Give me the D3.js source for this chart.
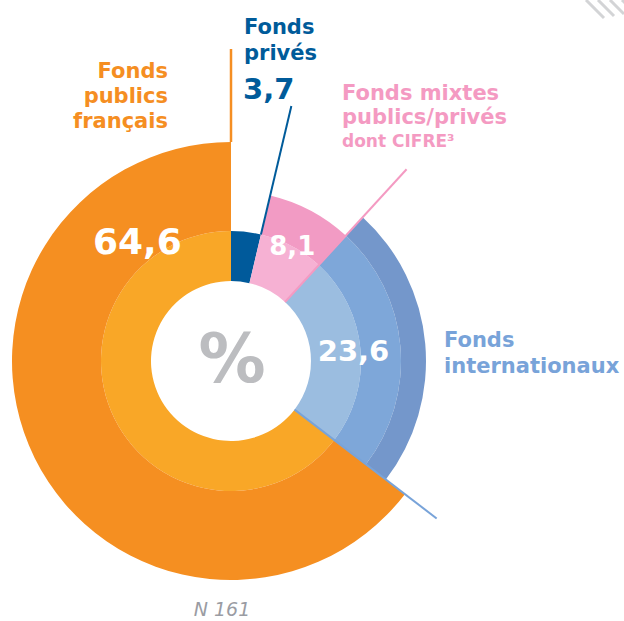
<!DOCTYPE html>
<html>
<head>
<meta charset="utf-8">
<script src="https://cdn.jsdelivr.net/npm/d3@7"></script>
<style>
  body { margin: 0; background: #fff; }
  svg { display: block; font-family: "DejaVu Sans", Verdana, sans-serif; }
</style>
</head>
<body>
<div id="chart"></div>
<script>
// parts of funding, % (clockwise from top)
const categories = ["Fonds privés", "Fonds mixtes publics/privés dont CIFRE³", "Fonds internationaux", "Fonds publics français"];
const shares = [3.7, 8.1, 23.6, 64.6];
const valueLabels = ["3,7", "8,1", "23,6", "64,6"];
const total = "N 161";

const W = 624, H = 621;
const cx = 231, cy = 361;
const radii = [80, 130, 170, 195, 219]; // ring bands

// layers per category: [inner band, outer band, colour]
const layers = [
  [[0, 1, "#005a9b"]],
  [[0, 1, "#f6b1d3"], [1, 2, "#f29bc4"]],
  [[0, 1, "#9bbde0"], [1, 2, "#7ea7d9"], [2, 3, "#7497cb"]],
  [[0, 1, "#f9a727"], [1, 4, "#f58f21"]]
];
const textColors = ["#005b9a", "#f49ac2", "#78a3d9", "#f58e22"];

const svg = d3.select("#chart").append("svg")
  .attr("width", W).attr("height", H);

// decorative stripes, top right
const stripes = svg.append("g").attr("stroke", "#d3d4d6").attr("stroke-width", 3);
[586, 598, 610, 622].forEach((x0, i) => {
  stripes.append("line")
    .attr("x1", x0).attr("y1", 0)
    .attr("x2", x0 + 18 - i * 2).attr("y2", 18 - i * 2);
});

const g = svg.append("g").attr("transform", `translate(${cx},${cy})`);

const pie = d3.pie().sort(null).value(d => d);
const arcs = pie(shares);
const arc = d3.arc();

arcs.forEach((a, i) => {
  layers[i].forEach(([r0, r1, col]) => {
    g.append("path")
      .attr("d", arc({ innerRadius: radii[r0], outerRadius: radii[r1], startAngle: a.startAngle, endAngle: a.endAngle }))
      .attr("fill", col);
  });
});

const pt = (ang, r) => [r * Math.sin(ang), -r * Math.cos(ang)];

// leader lines along segment edges
const leaders = [
  { angle: arcs[0].endAngle, r0: 130, r1: 262, color: "#005b9a", w: 2 },
  { angle: arcs[1].endAngle, r0: 80, r1: 260, color: "#f49ac2", w: 2 },
  { angle: arcs[2].endAngle, r0: 80, r1: 259, color: "#78a3d9", w: 2 },
  { angle: 0, r0: 219, r1: 312, color: "#f58e22", w: 2.5 }
];
leaders.forEach(l => {
  const [x1, y1] = pt(l.angle, l.r0), [x2, y2] = pt(l.angle, l.r1);
  g.append("line")
    .attr("x1", x1).attr("y1", y1).attr("x2", x2).attr("y2", y2)
    .attr("stroke", l.color).attr("stroke-width", l.w);
});

// values in the rings
const valuePos = [
  null,
  { angle: (arcs[1].startAngle + arcs[1].endAngle) / 2, r: 131, size: 26 },
  { angle: (arcs[2].startAngle + arcs[2].endAngle) / 2, r: 123, size: 29 },
  { angle: -38 * Math.PI / 180, r: 152, size: 36 }
];
valuePos.forEach((p, i) => {
  if (!p) return;
  const [x, y] = pt(p.angle, p.r);
  g.append("text")
    .attr("x", x).attr("y", y).attr("dy", "0.365em")
    .attr("text-anchor", "middle")
    .attr("font-size", p.size).attr("font-weight", "bold")
    .attr("fill", "#fff")
    .text(valueLabels[i]);
});

// centre %
g.append("text")
  .attr("x", 1).attr("y", 21)
  .attr("text-anchor", "middle")
  .attr("font-size", 67).attr("font-weight", "bold")
  .attr("fill", "#bcbdc0")
  .text("%");

// category labels
function label(lines, x, y0, step, anchor, color, size) {
  const t = svg.append("text")
    .attr("text-anchor", anchor)
    .attr("font-weight", "bold")
    .attr("fill", color);
  lines.forEach((s, k) => {
    t.append("tspan")
      .attr("x", x).attr("y", y0 + k * step)
      .attr("font-size", Array.isArray(size) ? size[k] : size)
      .text(s);
  });
  return t;
}

label(["Fonds", "publics", "français"], 168, 78, 25, "end", textColors[3], 21);
label(["Fonds", "privés"], 244, 34, 26, "start", textColors[0], 21);
label([valueLabels[0]], 243, 99, 0, "start", textColors[0], 29);
label(["Fonds mixtes", "publics/privés", "dont CIFRE³"], 342, 100, 23.5, "start", textColors[1], [21, 21, 17]);
label(["Fonds", "internationaux"], 444, 347, 26, "start", textColors[2], 21);

// sample size
svg.append("text")
  .attr("x", 222).attr("y", 616)
  .attr("text-anchor", "middle")
  .attr("font-size", 19).attr("font-style", "italic")
  .attr("fill", "#9a9ca3")
  .text(total);
</script>
</body>
</html>
